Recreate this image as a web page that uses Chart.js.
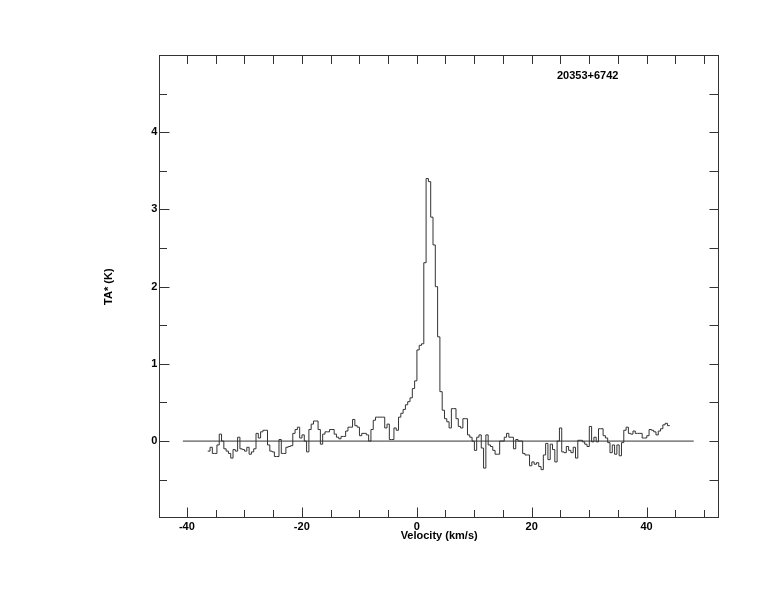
<!DOCTYPE html>
<html>
<head>
<meta charset="utf-8">
<script src="https://cdn.jsdelivr.net/npm/chart.js@4/dist/chart.umd.min.js"></script>
<style>
  html, body { margin: 0; padding: 0; background: #ffffff; }
  #wrap { width: 774px; height: 612px; }
</style>
</head>
<body>
<div id="wrap"><canvas id="c" width="774" height="612"></canvas></div>
<script>
// ---- data ----
const sourceName = '20353+6742';
const velocityStart = -36.37;   // left edge of first channel (km/s)
const channelWidth = 0.4;       // km/s
const tA = [
  -0.13,-0.08,-0.16,-0.16,-0.05, 0.09, 0.00,-0.10,-0.13,-0.16,
  -0.22,-0.11,-0.13, 0.05,-0.10,-0.11,-0.13,-0.08,-0.17,-0.14,
  -0.10, 0.10, 0.04, 0.12, 0.14, 0.14,-0.05,-0.13,-0.14,-0.20,
  -0.20, 0.02,-0.16,-0.16,-0.08,-0.07,-0.06, 0.10, 0.15, 0.18,
   0.04, 0.08, 0.00,-0.14, 0.15, 0.22, 0.26, 0.26, 0.15,-0.04,
   0.09, 0.12, 0.12, 0.15, 0.15, 0.09, 0.05, 0.03, 0.06, 0.06,
   0.13, 0.18, 0.18, 0.28, 0.20, 0.18, 0.07, 0.10, 0.10, 0.08,
   0.00, 0.15, 0.27, 0.31, 0.31, 0.31, 0.31, 0.17, 0.22, 0.02,
   0.02, 0.17, 0.14, 0.31, 0.36, 0.41, 0.47, 0.51, 0.56, 0.68,
   0.78, 1.18, 1.24, 1.26, 2.31, 3.40, 3.36, 2.90, 2.54, 2.00,
   1.35, 0.64, 0.40, 0.29, 0.25, 0.17, 0.42, 0.42, 0.29, 0.19,
   0.17, 0.29, 0.29, 0.08, 0.05, 0.00,-0.12, 0.05, 0.08,-0.09,
  -0.35, 0.08,-0.05,-0.07,-0.12,-0.17,-0.17, 0.00, 0.00, 0.05,
   0.10, 0.05, 0.05,-0.10, 0.02, 0.00, 0.00,-0.16,-0.18,-0.18,
  -0.32,-0.27,-0.30,-0.28,-0.33,-0.37,-0.18,-0.03,-0.24,-0.04,
  -0.11,-0.27, 0.00, 0.17,-0.14,-0.15,-0.07,-0.12,-0.15,-0.08,
  -0.22, 0.01, 0.01,-0.01,-0.04,-0.07, 0.19,-0.01, 0.05,-0.01,
   0.16, 0.16, 0.07, 0.04,-0.02,-0.15,-0.05,-0.17,-0.05,-0.19,
  -0.02, 0.14, 0.18, 0.10, 0.09, 0.13, 0.10, 0.10, 0.10, 0.04,
   0.04, 0.07, 0.15, 0.14, 0.12, 0.08, 0.13, 0.16, 0.21, 0.23,
   0.20
];
const baselineRange = [-40.7, 48.2];
const xTickLabels = [-40, -20, 0, 20, 40];
const yTickLabels = [0, 1, 2, 3, 4];
const xMinorTicks = [-40,-35,-30,-25,-20,-15,-10,-5,0,5,10,15,20,25,30,35,40,45,50];
const yMinorTicks = [-0.5,0,0.5,1,1.5,2,2.5,3,3.5,4,4.5];
const xTitle = 'Velocity (km/s)';
const yTitle = 'TA* (K)';

// ---- build chart data ----
const spectrumPoints = tA.map((v, k) => ({ x: velocityStart + channelWidth * k, y: v }));
spectrumPoints.push({ x: velocityStart + channelWidth * tA.length, y: tA[tA.length - 1] });
const baselinePoints = baselineRange.map(v => ({ x: v, y: 0 }));

const FONT = { family: '"Liberation Sans", Arial, Helvetica, sans-serif', size: 11, weight: 'bold' };

const framePlugin = {
  id: 'frameTicks',
  afterDatasetsDraw(chart) {
    const { ctx, chartArea: a, scales: { x, y } } = chart;
    const L = Math.round(a.left) + 0.5, R = Math.round(a.right) - 0.5;
    const T = Math.round(a.top) + 0.5, B = Math.round(a.bottom) - 0.5;
    ctx.save();
    ctx.strokeStyle = '#333';
    ctx.lineWidth = 1;
    ctx.strokeRect(L, T, R - L, B - T);
    ctx.beginPath();
    xMinorTicks.forEach(v => {
      const px = Math.round(x.getPixelForValue(v)) + 0.5;
      const len = xTickLabels.includes(v) ? 10 : 7.5;
      ctx.moveTo(px, B); ctx.lineTo(px, B - len);
      ctx.moveTo(px, T); ctx.lineTo(px, T + 8.5);
    });
    yMinorTicks.forEach(v => {
      const py = Math.round(y.getPixelForValue(v)) + 0.5;
      const len = yTickLabels.includes(v) ? 10 : 7.5;
      ctx.moveTo(L, py); ctx.lineTo(L + len, py);
      ctx.moveTo(R, py); ctx.lineTo(R - 9, py);
    });
    ctx.stroke();
    // source label
    ctx.fillStyle = '#000';
    ctx.font = 'bold 11px "Liberation Sans", Arial, sans-serif';
    ctx.textAlign = 'left';
    ctx.textBaseline = 'middle';
    ctx.fillText(sourceName, x.getPixelForValue(24.4), y.getPixelForValue(4.73));
    ctx.restore();
  }
};

new Chart(document.getElementById('c'), {
  type: 'line',
  data: {
    datasets: [
      { data: spectrumPoints, stepped: true, borderColor: '#333', borderWidth: 1,
        pointRadius: 0, fill: false, tension: 0 },
      { data: baselinePoints, borderColor: '#333', borderWidth: 1,
        pointRadius: 0, fill: false, tension: 0 }
    ]
  },
  options: {
    responsive: false,
    animation: false,
    events: [],
    layout: { padding: { left: 0, right: 55, top: 55, bottom: 0 } },
    plugins: { legend: { display: false }, tooltip: { enabled: false } },
    scales: {
      x: {
        type: 'linear', position: 'bottom', min: -44.8, max: 52.6,
        grid: { display: false, drawTicks: false }, border: { display: false },
        afterBuildTicks: s => { s.ticks = xTickLabels.map(v => ({ value: v })); },
        afterFit: s => { s.height = 93.7; },
        ticks: { color: '#000', font: FONT, padding: 2, maxRotation: 0, autoSkip: false },
        title: { display: true, text: xTitle, color: '#000', font: FONT, padding: { top: 0, bottom: 69 } }
      },
      y: {
        type: 'linear', position: 'left', min: -1, max: 5,
        grid: { display: false, drawTicks: false }, border: { display: false },
        afterBuildTicks: s => { s.ticks = yTickLabels.map(v => ({ value: v })); },
        afterFit: s => { s.width = 159.3; },
        ticks: { color: '#000', font: FONT, padding: 2, autoSkip: false },
        title: { display: true, text: yTitle, color: '#000', font: FONT, padding: { top: 102, bottom: 0 } }
      }
    }
  },
  plugins: [framePlugin]
});
</script>
</body>
</html>
